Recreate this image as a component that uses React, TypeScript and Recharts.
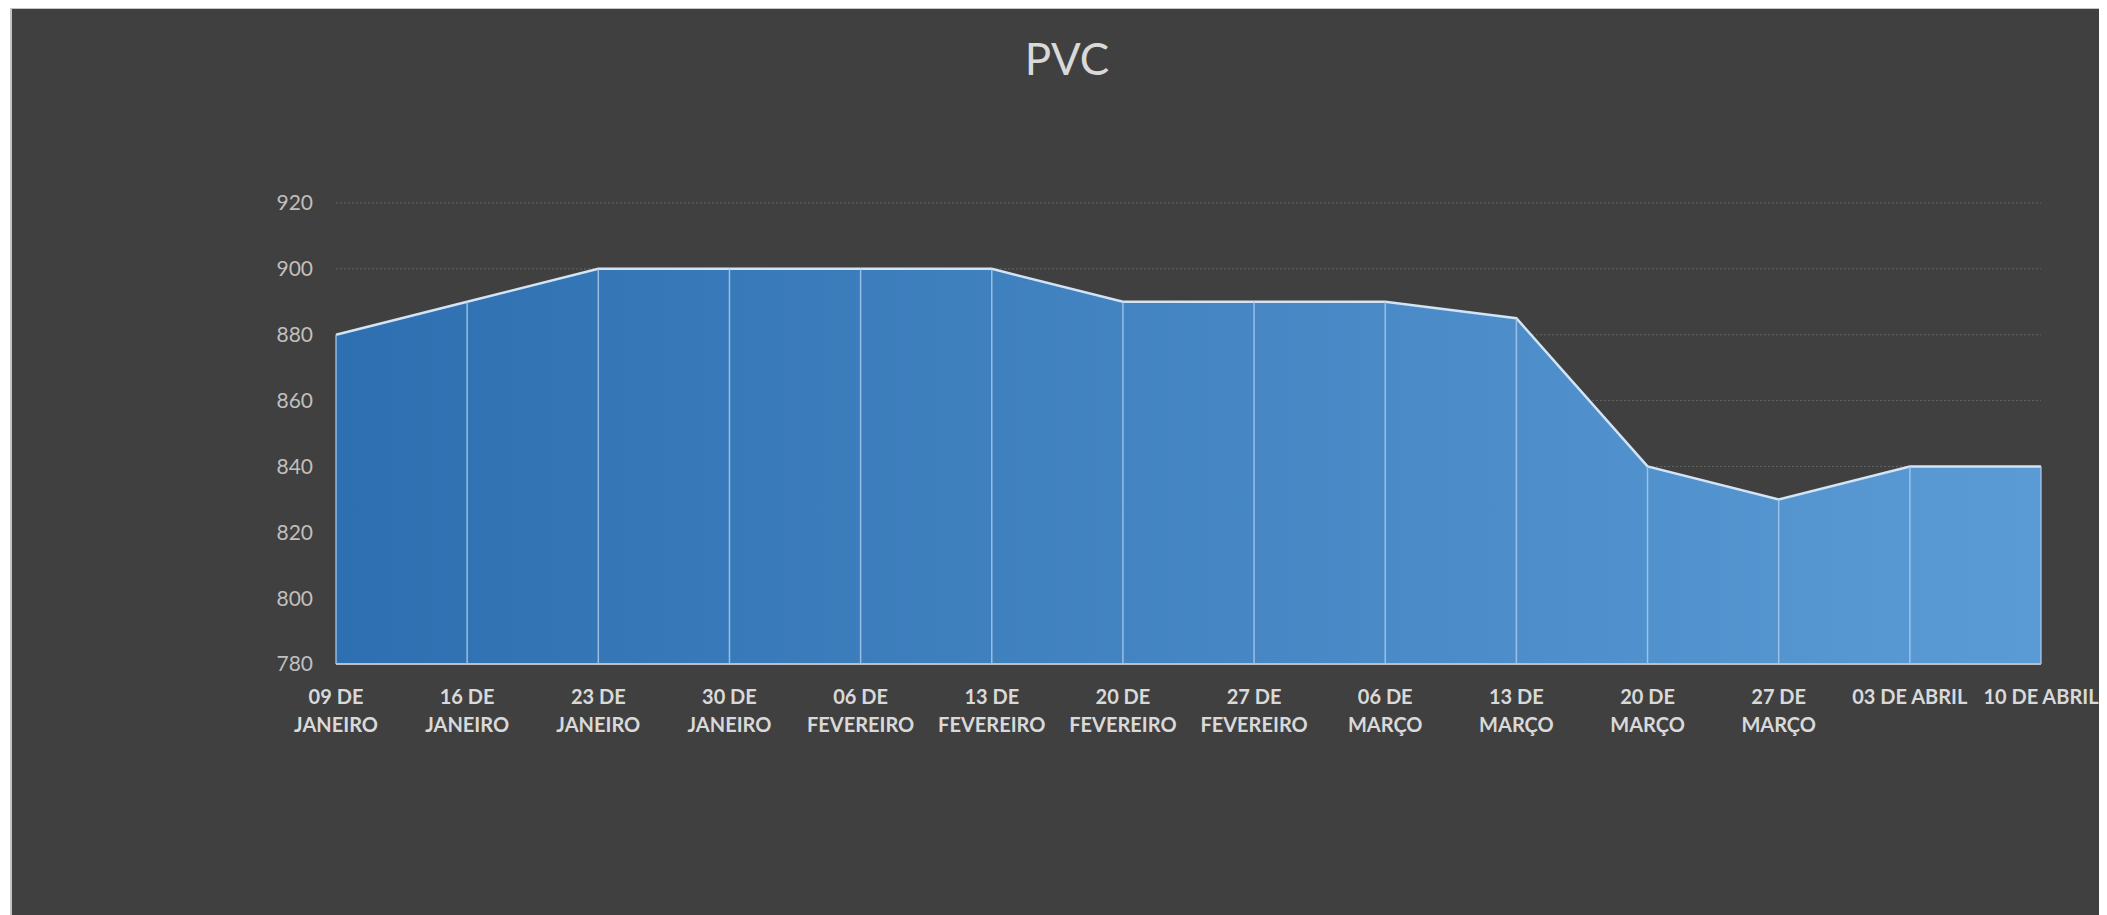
import React from "react";
import { AreaChart, Area, XAxis, YAxis, CartesianGrid, ReferenceLine } from "recharts";

const categories = [
  "09 DE JANEIRO", "16 DE JANEIRO", "23 DE JANEIRO", "30 DE JANEIRO",
  "06 DE FEVEREIRO", "13 DE FEVEREIRO", "20 DE FEVEREIRO", "27 DE FEVEREIRO",
  "06 DE MARÇO", "13 DE MARÇO", "20 DE MARÇO", "27 DE MARÇO",
  "03 DE ABRIL", "10 DE ABRIL",
];
const tickLines = [
  ["09 DE", "JANEIRO"], ["16 DE", "JANEIRO"], ["23 DE", "JANEIRO"], ["30 DE", "JANEIRO"],
  ["06 DE", "FEVEREIRO"], ["13 DE", "FEVEREIRO"], ["20 DE", "FEVEREIRO"], ["27 DE", "FEVEREIRO"],
  ["06 DE", "MARÇO"], ["13 DE", "MARÇO"], ["20 DE", "MARÇO"], ["27 DE", "MARÇO"],
  ["03 DE ABRIL"], ["10 DE ABRIL"],
];
const pvc = [880, 890, 900, 900, 900, 900, 890, 890, 890, 885, 840, 830, 840, 840];
const yTicks = [780, 800, 820, 840, 860, 880, 900, 920];
const title = "PVC";

const data = categories.map((c, i) => ({ cat: c, pvc: pvc[i] }));

const FONT = "Lato, 'Open Sans', sans-serif";

const XTick = (props: any) => {
  const { x, y, index } = props;
  const lines = tickLines[index] || [];
  return (
    <text x={x} y={y} textAnchor="middle" fill="#d9d9d9" fontFamily={FONT} fontWeight={700} fontSize={20}>
      {lines.map((l: string, i: number) => (
        <tspan key={i} x={x} y={y + 40 + i * 28}>{l}</tspan>
      ))}
    </text>
  );
};

export default function App() {
  const W = 2110;
  const H = 898;
  return (
    <div style={{ position: "relative", marginLeft: 2, width: 2120, height: 920, overflow: "hidden", background: "#404040", borderTop: "1px solid #c4c4c4", borderLeft: "2px solid #c4c4c4", boxSizing: "border-box" }}>
      <style>{`body{overflow:hidden}`}</style>
      <svg style={{ position: "absolute", left: -3, top: 0 }} width={W} height={120}>
        <text x={1058} y={66} textAnchor="middle" fill="#d9d9d9" fontFamily={FONT} fontSize={44}>{title}</text>
      </svg>
      <div style={{ position: "absolute", left: -3, top: 0 }}>
        <AreaChart width={W} height={H} data={data} margin={{ top: 194, right: 78, left: 0, bottom: 183 }}>
          <defs>
            <linearGradient id="pvcFill" x1="0" y1="0" x2="1" y2="0">
              <stop offset="0%" stopColor="#2e6fb1" />
              <stop offset="100%" stopColor="#5b9bd5" />
            </linearGradient>
          </defs>
          <CartesianGrid vertical={false} stroke="#646464" strokeDasharray="2 2" />
          <XAxis
            dataKey="cat"
            interval={0}
            height={60}
            tickSize={0}
            tickMargin={0}
            tickLine={false}
            axisLine={{ stroke: "#bfbfbf", strokeWidth: 2 }}
            tick={<XTick />}
          />
          <YAxis
            width={327}
            domain={[780, 920]}
            ticks={yTicks}
            interval={0}
            tickSize={0}
            tickMargin={23}
            tickLine={false}
            axisLine={false}
            tick={{ fill: "#bfbfbf", fontFamily: FONT, fontSize: 21 }}
          />
          <Area
            type="linear"
            dataKey="pvc"
            baseValue={780}
            stroke="#d3e4f4"
            strokeWidth={2.5}
            fill="url(#pvcFill)"
            fillOpacity={1}
            dot={false}
            activeDot={false}
            isAnimationActive={false}
          />
          {data.map((d) => (
            <ReferenceLine
              key={d.cat}
              segment={[{ x: d.cat, y: 780 }, { x: d.cat, y: d.pvc }]}
              stroke="#a8c9ea"
              strokeOpacity={0.85}
              strokeWidth={1.5}
            />
          ))}
        </AreaChart>
      </div>
    </div>
  );
}
